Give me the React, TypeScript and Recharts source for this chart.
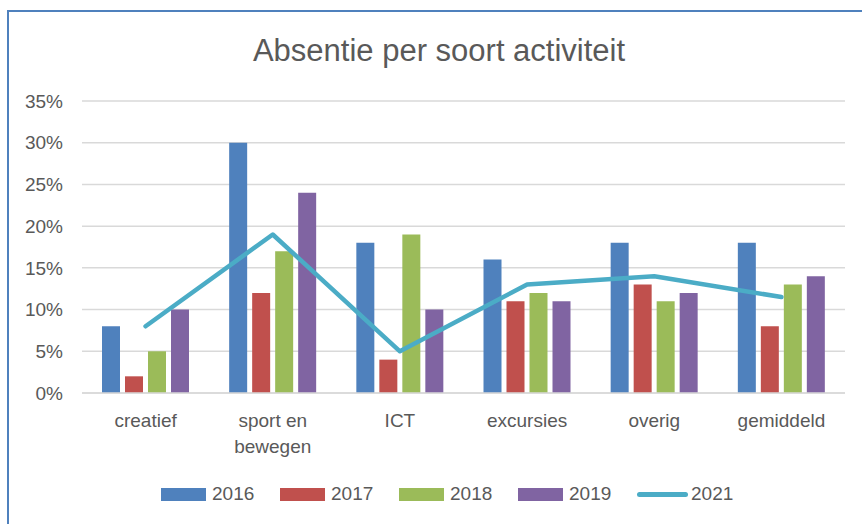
import { ComposedChart, Bar, Line, XAxis, YAxis, CartesianGrid, Text } from "recharts";

const categories = ["creatief", "sport en bewegen", "ICT", "excursies", "overig", "gemiddeld"];
const y2016 = [8, 30, 18, 16, 18, 18];
const y2017 = [2, 12, 4, 11, 13, 8];
const y2018 = [5, 17, 19, 12, 11, 13];
const y2019 = [10, 24, 10, 11, 12, 14];
const y2021 = [8, 19, 5, 13, 14, 11.5];
const yTicks = [0, 5, 10, 15, 20, 25, 30, 35];

const barSeries = [
  { key: "2016", color: "#4F81BD" },
  { key: "2017", color: "#C0504D" },
  { key: "2018", color: "#9BBB59" },
  { key: "2019", color: "#8064A2" }
];
const lineSeries = { key: "2021", color: "#4BACC6" };

const data = categories.map((name, i) => ({
  name,
  "2016": y2016[i],
  "2017": y2017[i],
  "2018": y2018[i],
  "2019": y2019[i],
  "2021": y2021[i]
}));

const font = "'Liberation Sans', Arial, sans-serif";
const textColor = "#595959";

function CategoryTick(props: any) {
  const { x, y, payload } = props;
  return (
    <Text
      x={x}
      y={y + 13}
      width={100}
      textAnchor="middle"
      verticalAnchor="start"
      lineHeight={26}
      fill={textColor}
      fontSize={19}
      fontFamily={font}>
      {payload.value}
    </Text>);
}

export default function App() {
  return (
    <div style={{ position: "absolute", left: 0, top: 0, width: 862, height: 524, background: "#fff", fontFamily: font }}>
      <div
        style={{
          position: "absolute",
          left: 7,
          top: 10,
          right: 0,
          bottom: 0,
          borderLeft: "2px solid #4F81BD",
          borderTop: "2px solid #4F81BD"
        }} />
      <div
        style={{
          position: "absolute",
          left: 0,
          width: 878,
          top: 33,
          textAlign: "center",
          fontSize: 31,
          color: textColor
        }}>
        Absentie per soort activiteit
      </div>
      <div style={{ position: "absolute", left: 0, top: 0 }}>
        <ComposedChart
          width={862}
          height={524}
          data={data}
          barSize={18}
          barGap={5}
          margin={{ top: 101, right: 17, left: 12, bottom: 71 }}>
          <CartesianGrid vertical={false} stroke="#d9d9d9" strokeWidth={1.5} />
          <XAxis
            dataKey="name"
            height={60}
            axisLine={{ stroke: "#d9d9d9", strokeWidth: 1.5 }}
            tickLine={false}
            tick={<CategoryTick />}
            interval={0} />
          <YAxis
            width={70}
            domain={[0, 35]}
            ticks={yTicks}
            tickFormatter={(v) => `${v}%`}
            axisLine={false}
            tickLine={false}
            tickSize={0}
            tickMargin={19}
            tick={{ fill: textColor, fontSize: 19, fontFamily: font }} />
          {barSeries.map((s) =>
            <Bar key={s.key} dataKey={s.key} fill={s.color} isAnimationActive={false} />
          )}
          <Line
            type="linear"
            dataKey={lineSeries.key}
            stroke={lineSeries.color}
            strokeWidth={4.5}
            strokeLinecap="round"
            strokeLinejoin="round"
            dot={false}
            activeDot={false}
            isAnimationActive={false} />
        </ComposedChart>
      </div>
      <div
        style={{
          position: "absolute",
          left: 161,
          top: 482,
          display: "flex",
          alignItems: "center",
          height: 24,
          fontSize: 19,
          color: textColor
        }}>
        {barSeries.map((s) =>
          <div key={s.key} style={{ display: "flex", alignItems: "center", width: 119 }}>
            <span style={{ display: "inline-block", width: 45, height: 13, background: s.color, marginRight: 6 }} />
            <span>{s.key}</span>
          </div>
        )}
        <div style={{ display: "flex", alignItems: "center" }}>
          <span style={{ display: "inline-block", width: 51, height: 5, borderRadius: 3, background: lineSeries.color, marginRight: 3 }} />
          <span>{lineSeries.key}</span>
        </div>
      </div>
    </div>);
}
